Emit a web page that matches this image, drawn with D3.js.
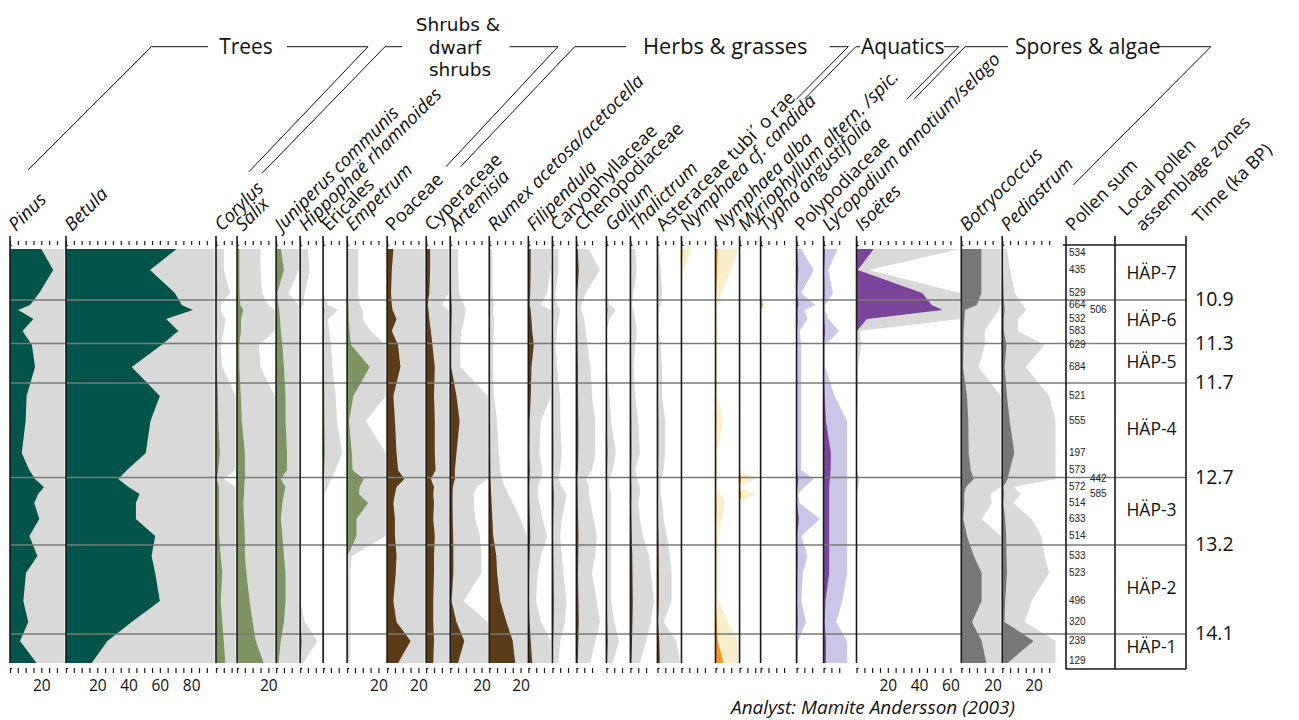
<!DOCTYPE html>
<html><head><meta charset="utf-8">
<script src="https://cdn.jsdelivr.net/npm/d3@7"></script>
<style>body{margin:0;background:#fff}svg{display:block}</style>
</head><body><svg id="c" width="1299" height="720"></svg>
<script>
// ---------- DATA ----------
const depths = [0,10.5,22,28,30.5,35,41,48,59,73.5,86,102,110.5,115,119,122.5,127,135,143.5,153.5,162,176,186.5,196,207];
const pollenSum = [534,435,529,664,506,532,583,629,684,521,555,197,573,442,572,585,514,633,514,533,523,496,320,239,129];
const sumSecondCol = [0,0,0,0,1,0,0,0,0,0,0,0,0,1,0,1,0,0,0,0,0,0,0,0,0];
const zoneBounds = [25.5,47.25,67,114.25,148,192.5];
const zoneAges = ["10.9","11.3","11.7","12.7","13.2","14.1"];
const zoneNames = ["HÄP-7","HÄP-6","HÄP-5","HÄP-4","HÄP-3","HÄP-2","HÄP-1"];

const pinus = [20,27.6,18.7,12.8,5.3,15,8,14,16,10.6,10,7.5,12.3,16,21.7,18,15.5,18.7,12.4,17.5,10.2,8.5,11.7,6.4,17];
const betula = [70.7,53.7,69.6,74,81,64,71.8,61,42,60,54,51,39,33.4,40,47,44.7,44.7,57,54.7,57,60,42,26.5,16.4];
const corylus = [0.5,0.5,0.9,0.3,0.3,0.6,0.5,0.3,0.4,1.3,1.5,2.5,1.5,0.5,2,2,2,2,2,3,4,3,4,5,6];
const salix = [1.5,1.5,1.6,2,4,2.5,2.5,1.4,1.5,2.4,3,5,5,5,4.5,4.5,4,4.5,5,5,6,8,10,12,17];
const juniperus = [3,5,0.8,1.5,2,2.5,3,4,5,6,6,7,7,3,6,5,4,3,4,5,6,6,5,3,1.5];
const hippophae = [0.5,0.6,0.3,0.2,0,0,0,0,0,0,0,0,0,0,0,0,0,0,0,0,0,0,0.3,1.1,0.2];
const ericales = [0,0,0,0.3,0.95,0.3,0.4,0.5,0.6,0.8,0.9,1.2,0.8,0.5,0.3,0.1,0.1,0.1,0.1,0.1,0.1,0.1,0.1,0.1,0.1];
const empetrum = [0.7,0.7,0.7,0.8,1,1,1.5,2.5,14.5,4,1.2,3,3.5,10.6,8,7.5,13.4,6,6,0.3,0.2,0.2,0.2,0.2,0.2];
const poaceae = [4,3,2.5,3,3.5,6,3,7,8.5,4,5,6,7,11,6,5,4,5,5,6,5.5,4,6,15,7];
const cyperaceae = [2.5,2.5,2,1,1.5,2,3,4,5.5,5,5.5,5.5,6,3,5,4.5,5,4.5,5.5,5,5,4.5,4.5,5,4.5];
const artemisia = [0.5,0.5,0.55,0.9,1,0.9,0.7,0.64,0.65,4,6,4,3,3,1.7,1.5,1.5,1.6,1.9,2,2,0.85,4,9,5];
const rumex = [0.2,0.2,0.2,0.3,0.25,0.3,0.3,0.25,0.25,0.3,0.5,0.6,0.7,0.8,1,1.2,1.5,2,2.5,4.5,5,7,11,15,16.6];
const filipendula = [1.5,1.5,1.2,0.8,1.5,2,2.5,3.5,2,1.6,0.8,0.7,0.9,0.8,0.6,0.6,0.7,0.9,1.2,0.8,0.6,0.5,0.8,1.5,2.5];
const caryophyllaceae = [0.4,0.4,0.2,0.3,0.5,0.4,0.3,0.2,0.3,0.5,0.5,0.6,0.5,0.4,0.6,0.9,0.8,0.6,0.5,0.6,0.7,0.9,0.8,0.5,0.4];
const chenopodiaceae = [0.8,1.5,0.6,0.3,0.3,0.5,0.6,0.7,0.9,1,1.2,1.2,1,0.6,0.8,0.8,0.9,1.1,1.3,1.2,1,1.3,1.5,1.2,0.9];
const galium = [0,0,0,0.2,0.6,0.2,0,0,0,0.2,0.3,0.6,0.4,0.2,0.2,0.3,0.3,0.3,0.3,0.3,0.3,0.3,0.5,0.8,0.4];
const thalictrum = [0.3,0.4,0.2,0.1,0.2,0.3,0.4,0.3,0.2,0.3,0.5,0.6,0.3,0.4,0.6,0.6,0.5,0.6,0.8,1.2,1.3,1.5,1.3,1,0.6];
const asteraceae = [0.1,0.2,0.3,0.2,0.1,0.1,0.1,0.2,0.3,0.3,0.5,0.5,0.4,0.2,0.2,0.2,0.3,0.4,0.6,0.8,0.9,0.9,0.4,1.2,1.5];
const nymphaeaCandida = [0.7,0.1,0,0,0,0,0,0,0,0,0,0,0,0,0,0,0,0,0,0,0,0,0,0,0];
const nymphaeaAlba = [1.5,1,0.4,0.2,0.1,0.1,0.2,0.1,0.1,0.1,0.5,0.1,0.1,0.1,0.1,0.3,0.6,0.4,0.2,0.2,0.2,0.2,0.8,1.5,5];
const myriophyllum = [0,0,0,0,0,0,0,0,0,0,0,0,0,1,0,1,0,0,0,0,0,0,0,0,0];
const typha = [0,0,0,1.5,0,0,0,0,0,0,0,0,0,0,0,0,0,0,0,0,0,0,0,0,0];
const polypodiaceae = [0.3,1.1,0.3,1.2,0.5,0.7,0.2,0.3,0.3,0.3,0.3,0.3,0.3,1.1,0.5,0.1,0.2,1.5,0.3,0.7,0.4,0.3,0.6,0.1,0.1];
const lycopodium = [0.9,0.3,0.6,0.1,0.1,0.3,1,0.1,0.1,0.7,1.5,4.7,4.5,4,3.6,3.6,3.6,3.6,3.6,3.6,3.6,1.2,0.8,1.5,1.5];
const isoetes = [11,0.8,42,48,55,6.7,0.2,0.3,0.1,0.1,0,0,0,0.2,0.1,0,0,0,0,0,0,0,0,0,0];
const botryococcus = [12.8,12.8,12.8,10,2.4,2,1.5,1.5,1.1,3.6,4.5,4.7,6,7.9,3,1.85,1.95,1.3,3.6,8,13,13,6.8,13,16];
const pediastrum = [0.3,0.5,0.8,1.3,1.56,1,1,2.7,1.5,3,4.8,7.7,4.8,3.4,0.7,1.2,0.7,1.87,2.5,2.7,3,1.87,1.45,20,3.4];

const taxonNames = ["Pinus","Betula","Corylus","Salix","Juniperus communis","Hippophaë rhamnoides","Ericales","Empetrum","Poaceae","Cyperaceae","Artemisia","Rumex acetosa/acetocella","Filipendula","Caryophyllaceae","Chenopodiaceae","Galium","Thalictrum","Asteraceae tubi´ o rae","Nymphaea cf. candida","Nymphaea alba","Myriophyllum altern. /spic.","Typha angustifolia","Polypodiaceae","Lycopodium annotium/selago","Isoëtes","Botryococcus","Pediastrum"];
const taxonValues = [pinus,betula,corylus,salix,juniperus,hippophae,ericales,empetrum,poaceae,cyperaceae,artemisia,rumex,filipendula,caryophyllaceae,chenopodiaceae,galium,thalictrum,asteraceae,nymphaeaCandida,nymphaeaAlba,myriophyllum,typha,polypodiaceae,lycopodium,isoetes,botryococcus,pediastrum];
const taxonGroup = ["tree","tree","shrub","shrub","shrub","shrub","shrub","shrub","herb","herb","herb","herb","herb","herb","herb","herb","herb","herb","aquatic","aquatic","aquatic","aquatic","spore","spore","iso","alga","alga"];
const taxonItalic = [1,1,1,1,1,1,0,1,0,0,1,1,1,0,0,1,1,0,1,1,1,1,0,1,1,1,1];
const tickMax = [30,90,10,20,10,10,10,20,20,10,20,20,10,10,10,10,10,10,15,10,10,15,10,10,60,20,30];
const groupHeaders = ["Trees","Shrubs &","dwarf","shrubs","Herbs & grasses","Aquatics","Spores & algae"];

// ---------- LAYOUT ----------
const colExtent = [34.8,94.9,12.5,24,14.4,13.7,14.4,24.6,24,14.4,24,24,14.4,14.4,18.2,14.4,16.3,14.4,20.8,14.4,12.5,22,16.3,20.1,66,25.2,40];
const fillClip = {23:15, 26:34};
const noExag = {21:true};
const EXAG = 10;
const colGap = 1.5;
const pct = d3.scaleLinear().domain([0,1]).range([0,1.565]);
const colorDark = {tree:"#00544a",shrub:"#7e9563",herb:"#5b3c18",aquatic:"#f7941d",spore:"#7a4598",iso:"#7a4598",alga:"#777777"};
const colorLight = {tree:"#d9d9d9",shrub:"#d9d9d9",herb:"#d9d9d9",aquatic:"#faefcd",spore:"#cac6e7",iso:"#d9d9d9",alga:"#d9d9d9"};

const svg = d3.select("#c");
const y = d3.scaleLinear().domain([0,207]).range([249,663]);
const baseX = [];
{ let x = 10; colExtent.forEach(e => { baseX.push(x); x += pct(e) + colGap; }); }
const boxL = 1066, boxM = 1115, boxR = 1186;

const gFill = svg.append("g"), gDark = svg.append("g"), gZone = svg.append("g"), gAxis = svg.append("g"), gText = svg.append("g");

taxonValues.forEach((vals, i) => {
  const bx = baseX[i];
  const clip = fillClip[i] !== undefined ? fillClip[i] : colExtent[i];
  const pts = vals.map((v, k) => ({d: depths[k], v}));
  if (!noExag[i]) {
    const areaL = d3.area().y(p => y(p.d)).x0(bx).x1(p => bx + pct(Math.min(p.v * EXAG, clip)));
    gFill.append("path").attr("d", areaL(pts)).attr("fill", colorLight[taxonGroup[i]]);
  }
  const areaD = d3.area().y(p => y(p.d)).x0(bx).x1(p => bx + pct(p.v));
  gDark.append("path").attr("d", areaD(pts)).attr("fill", colorDark[taxonGroup[i]]);

  gAxis.append("line").attr("x1", bx).attr("x2", bx).attr("y1", 236).attr("y2", 663).attr("stroke", "#1a1a1a").attr("stroke-width", 1.6);
  const tx = d3.scaleLinear().domain([0, 1]).range([bx, bx + pct(1)]);
  const tks = d3.range(0, tickMax[i] + 0.01, 5);
  const topAxis = d3.axisTop(tx).tickValues(tks).tickSize(4).tickFormat("").tickSizeOuter(0);
  gAxis.append("g").attr("transform", "translate(0,245)").call(topAxis)
    .call(g => g.select(".domain").attr("stroke", "#1a1a1a").attr("stroke-width", 1.3))
    .call(g => g.selectAll(".tick line").attr("stroke", "#1a1a1a").attr("stroke-width", 1.2));
  const botAxis = d3.axisBottom(tx).tickValues(tks).tickSize(5).tickSizeOuter(0)
    .tickFormat(v => (v > 0 && v % 20 === 0) ? v : "");
  gAxis.append("g").attr("transform", "translate(0,668)").call(botAxis)
    .call(g => g.select(".domain").attr("stroke", "#1a1a1a").attr("stroke-width", 1.3))
    .call(g => g.selectAll(".tick line").attr("stroke", "#1a1a1a").attr("stroke-width", 1.2))
    .call(g => g.selectAll(".tick text").attr("font-family", "Open Sans").attr("font-size", 15.5).attr("fill", "#111").attr("dy", "0.95em"));

  gText.append("text").attr("transform", `translate(${bx + 6},232) rotate(-45)`)
    .attr("font-family", "Open Sans").attr("font-size", 18.5)
    .attr("font-style", taxonItalic[i] ? "italic" : "normal").attr("fill", "#111").text(taxonNames[i]);
});

zoneBounds.forEach(z => {
  gZone.append("line").attr("x1", 10).attr("x2", boxR).attr("y1", y(z)).attr("y2", y(z)).attr("stroke", "#7a7a7a").attr("stroke-width", 1.5);
});

[boxL, boxM, boxR].forEach(x => gAxis.append("line").attr("x1", x).attr("x2", x).attr("y1", 236).attr("y2", 669).attr("stroke", "#1a1a1a").attr("stroke-width", 1.6));
gAxis.append("line").attr("x1", 1063).attr("x2", boxR).attr("y1", 245).attr("y2", 245).attr("stroke", "#1a1a1a").attr("stroke-width", 1.3);
gAxis.append("line").attr("x1", boxL).attr("x2", boxR).attr("y1", 669).attr("y2", 669).attr("stroke", "#1a1a1a").attr("stroke-width", 1.3);

pollenSum.forEach((s, k) => {
  const yy = Math.max(253, Math.min(661, y(depths[k])));
  gText.append("text").attr("x", sumSecondCol[k] ? 1090 : 1069).attr("y", yy).attr("dominant-baseline", "middle")
    .attr("font-family", "Liberation Sans").attr("font-size", 10).attr("fill", "#222").text(s);
});
const zb = [0, ...zoneBounds, 207];
zoneNames.forEach((n, k) => {
  gText.append("text").attr("x", (boxM + boxR) / 2 + 1).attr("y", y((zb[k] + zb[k + 1]) / 2)).attr("text-anchor", "middle")
    .attr("dominant-baseline", "middle").attr("font-family", "Open Sans").attr("font-size", 17.5).attr("fill", "#111").text(n);
});
zoneAges.forEach((a, k) => {
  gText.append("text").attr("x", 1195).attr("y", y(zoneBounds[k]) + 1).attr("dominant-baseline", "middle")
    .attr("font-family", "Open Sans").attr("font-size", 19.5).attr("fill", "#111").text(a);
});

[["Pollen sum", 1073, 232], ["Local pollen", 1126, 217], ["assemblage zones", 1143, 232], ["Time (ka BP)", 1200, 224]].forEach(([t, x, yy]) => {
  gText.append("text").attr("transform", `translate(${x},${yy}) rotate(-45)`).attr("font-family", "Open Sans")
    .attr("font-size", 18).attr("fill", "#111").text(t);
});

const hdr = svg.append("g").attr("fill", "none").attr("stroke", "#111").attr("stroke-width", 1);
const HY = 46.7;
const polylines = [
  [[28,170],[151.5,HY],[208,HY]],
  [[287,HY],[368,HY],[249,171.7]],
  [[262,173.3],[385,HY],[402,HY]],
  [[509.5,HY],[558,HY],[446,166.7]],
  [[460.6,166.7],[574.7,HY],[626,HY]],
  [[829.6,HY],[848.3,HY],[796.3,99.3]],
  [[804.6,99],[855.8,HY],[860,HY]],
  [[944,HY],[958.8,HY],[906.7,99.3]],
  [[914,99.3],[965,HY],[1008,HY]],
  [[1156.7,HY],[1210.8,HY],[1073.3,185]]
];
polylines.forEach(p => hdr.append("path").attr("d", d3.line()(p)));
const hText = svg.append("g").attr("font-family", "Open Sans").attr("font-size", 21).attr("fill", "#111");
hText.append("text").attr("x", 246).attr("y", 54).attr("text-anchor", "middle").text(groupHeaders[0]);
[[458, 31], [455, 53.5], [460, 76]].forEach(([x, yy], k) => {
  svg.append("text").attr("x", x).attr("y", yy).attr("text-anchor", "middle").attr("font-family", "DejaVu Sans")
    .attr("font-size", 18.5).attr("fill", "#111").text(groupHeaders[1 + k]);
});
hText.append("text").attr("x", 643).attr("y", 54).attr("font-size", 21.8).text(groupHeaders[4]);
hText.append("text").attr("x", 861).attr("y", 54).text(groupHeaders[5]);
hText.append("text").attr("x", 1015).attr("y", 54).text(groupHeaders[6]);

svg.append("text").attr("x", 731).attr("y", 714).attr("font-family", "Open Sans").attr("font-style", "italic")
  .attr("font-size", 19).attr("fill", "#111").text("Analyst: Mamite Andersson (2003)");
</script></body></html>
